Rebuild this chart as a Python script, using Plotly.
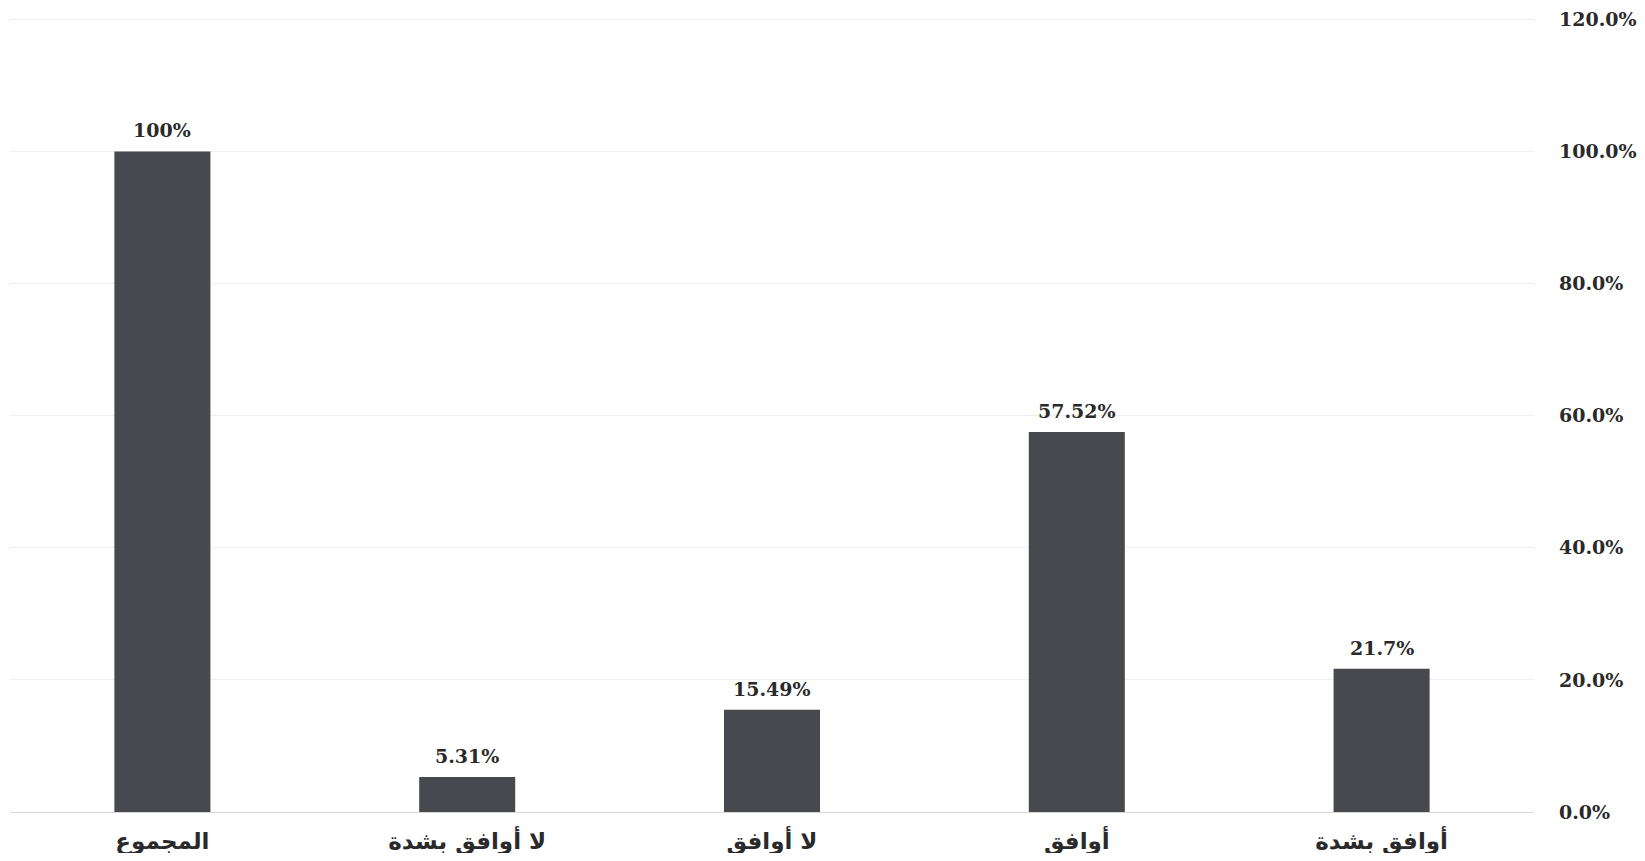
import plotly.graph_objects as go

categories = ["المجموع", "لا أوافق بشدة", "لا أوافق", "أوافق", "أوافق بشدة"]
values = [100, 5.31, 15.49, 57.52, 21.7]
value_labels = ["100%", "5.31%", "15.49%", "57.52%", "21.7%"]
tick_vals = [0, 20, 40, 60, 80, 100, 120]
tick_text = ["0.0%", "20.0%", "40.0%", "60.0%", "80.0%", "100.0%", "120.0%"]

fig = go.Figure(go.Bar(
    x=categories, y=values,
    marker=dict(color="#48484f", line=dict(width=0)),
    width=0.315,
))

for c, v, t in zip(categories, values, value_labels):
    fig.add_annotation(
        x=c, y=v, text=t, showarrow=False, yanchor="bottom", yshift=8,
        font=dict(family="DejaVu Serif", size=19, color="#2a2a2a", weight="bold"),
    )

# page body adds an 8px offset; figure sized so it ends at the window edge
fig.update_layout(
    width=1637, height=845,
    margin=dict(l=2, r=111, t=10, b=41),
    paper_bgcolor="white", plot_bgcolor="white",
    showlegend=False,
    xaxis=dict(
        showgrid=False, showline=False, zeroline=False, ticks="",
        automargin=False,
        tickfont=dict(family="DejaVu Sans", size=23, color="#2a2a2a", weight="bold"),
        ticklabelstandoff=13,
    ),
    yaxis=dict(
        side="right", range=[0, 120.2], tickvals=tick_vals, ticktext=tick_text,
        automargin=False, ticklabeloverflow="allow",
        showgrid=True, gridcolor="#efefef", gridwidth=1,
        zeroline=True, zerolinecolor="#d8d8d8", zerolinewidth=1,
        showline=False, ticks="",
        tickfont=dict(family="DejaVu Serif", size=19, color="#2a2a2a", weight="bold"),
        ticklabelstandoff=24,
    ),
)

fig.write_html("out.html")
